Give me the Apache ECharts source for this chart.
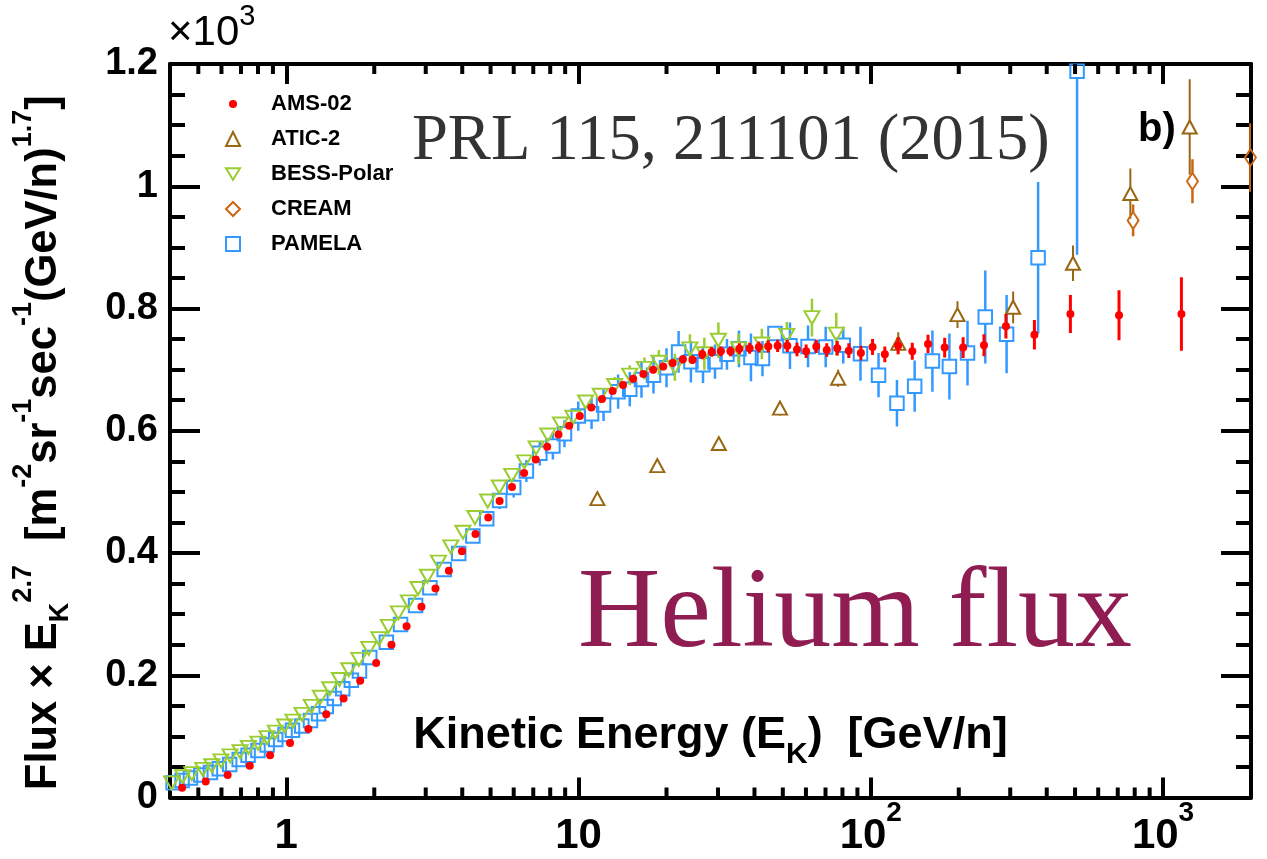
<!DOCTYPE html>
<html><head><meta charset="utf-8">
<script src="https://cdn.jsdelivr.net/npm/echarts@6/dist/echarts.min.js"></script>
<style>html,body{margin:0;padding:0;background:#fff}#c{width:1267px;height:859px}</style>
</head><body><div id="c"></div><script>
// ---------------- data (E in GeV/n, flux x E^2.7) ----------------
const amsE=[0.44,0.53,0.63,0.75,0.88,1.03,1.19,1.37,1.57,1.79,2.03,2.29,2.58,2.90,3.24,3.60,3.99,4.44,4.91,5.37,5.92,6.51,7.14,7.81,8.54,9.29,10.1,11.06,12.03,13.08,14.2,15.38,16.67,18.0,19.49,21.0,22.75,24.55,26.5,28.55,30.7,33.1,35.5,38.5,41.4,44.6,48.0,51.8,55.9,60.1,65.1,70.7,76.8,84.1,92.5,101.4,111.7,124,138.7,157,179,207,244,290,363,482,707,1156];
const amsFlux=[16,26,37,52,69,89,112,136,162,191,220,250,280,312,342,371,403,431,458,485,508,531,553,574,594,608,624,638,652,665,675,685,693,700,705,711,717,716,725,729,730,730,734,735,737,738,739,739,733,730,738,732,735,731,727,737,725,739,730,742,736,736,740,771,757,791,789,791];
const amsErr=[1,1,1,1,1,1,1,1,1,1,1,1,1,1,1,2,2,2,2,2,3,3,3,3,3,3,4,4,4,5,5,5,5,6,6,6,7,7,8,8,8,8,9,9,9,10,10,10,11,11,11,11,12,12,12,13,13,14,14,15,16,17,18,20,24,31,41,60];

const aticE=[11.6,18.6,30.2,48.9,77.3,124.2,198,307,492,773,1234];
const aticFlux=[489,543,579,637,686,743,790,802,874,988,1097];
const aticErr=[6,8,10,12,14,18,22,26,29,41,78];

const bessE=[0.405,0.442,0.475,0.518,0.556,0.598,0.642,0.695,0.742,0.80,0.859,0.917,0.987,1.054,1.132,1.218,1.308,1.408,1.52,1.636,1.771,1.916,2.075,2.235,2.418,2.617,2.823,3.041,3.317,3.656,4.022,4.42,4.887,5.356,5.908,6.525,7.159,7.852,8.672,9.568,10.57,11.87,13.29,14.97,16.81,18.83,21.36,24.05,26.95,30.1,35.26,42.4,51.6,62.9,76.2];
const bessFlux=[24,34,39,46,52,60,68,75,82,89,98,107,117,125,136,149,164,178,193,209,226,244,260,280,302,320,342,362,385,410,434,458,485,508,527,549,572,593,611,622,647,658,674,691,702,712,704,734,726,748,734,742,756,785,758];
const bessErr=[1,1,1,1,1,1,1,1,1,1,1,1,1,1,1,1,1,1,1,1,2,2,2,2,2,2,2,2,2,2,3,3,4,4,5,5,6,7,8,9,10,12,14,16,18,20,22,24,26,29,25,25,22,31,35];

const creamE=[790,1261,1991];
const creamFlux=[944,1008,1047];
const creamErr=[26,36,56];

const pamelaE=[0.41,0.44,0.47,0.51,0.55,0.59,0.64,0.69,0.74,0.80,0.86,0.92,0.99,1.05,1.13,1.21,1.29,1.37,1.46,1.56,1.67,1.78,1.93,2.20,2.46,2.77,3.10,3.47,3.89,4.35,4.85,5.37,6.0,6.63,7.37,8.17,8.95,9.98,11.08,12.18,13.66,14.97,16.42,18.05,20.0,22.0,24.24,26.66,29.3,32.2,35.4,38.9,42.6,47.0,52.9,61.0,70.1,80.5,92.2,106.3,122.9,141.3,162.5,185.8,214.3,246.5,291.6,373.7,508];
const pamelaFlux=[24,28,32,37,41,47,54,62,69,77,86,95,103,110,117,126,137,149,162,178,192,207,229,254,283,314,343,373,399,428,456,486,507,534,563,575,595,624,628,642,664,668,684,691,703,729,713,708,713,725,734,720,718,759,739,738,737,740,726,691,645,673,714,705,727,786,758,883,1188];
const pamelaErr=[2,2,2,2,2,2,2,2,2,2,2,3,3,3,3,3,3,3,4,4,4,4,5,5,6,7,8,9,10,11,12,14,16,18,20,22,22,24,25,26,28,28,30,30,32,34,34,30,28,25,30,39,29,12,38,34,33,30,44,36,38,42,50,54,53,76,64,124,300];

// axis ticks / labels
const xMin=0.4, xMax=2000;
const xTickValues=[1,10,100,1000];
const xTickBase=['1','10','10','10'];
const xTickExp=['','','2','3'];
const xMinorTicks=[0.5,0.6,0.7,0.8,0.9,2,3,4,5,6,7,8,9,20,30,40,50,60,70,80,90,200,300,400,500,600,700,800,900];
const yMin=0, yMax=1200, yStep=200;
const yTickLabels=['0','0.2','0.4','0.6','0.8','1','1.2'];

// ---------------- chart ----------------
const SANS='Liberation Sans, Arial, Helvetica, sans-serif';
const SERIF='Liberation Serif, Times New Roman, serif';
const downTri='path://M0,0L12,0L6,10Z';
const smallDot='path://M0,0M14,14M7,3A4,4 0 1 1 7,11A4,4 0 1 1 7,3Z';

const defs=[
  {name:'PAMELA',e:pamelaE,f:pamelaFlux,err:pamelaErr,color:'#3399ff',symbol:'rect',size:13.5,hollow:true,gap:6.8,lw:2.5,z:3},
  {name:'ATIC-2',e:aticE,f:aticFlux,err:aticErr,color:'#996611',symbol:'triangle',size:[14,13],hollow:true,gap:6.5,lw:2,z:4},
  {name:'BESS-Polar',e:bessE,f:bessFlux,err:bessErr,color:'#9acd32',symbol:downTri,size:[15,13],hollow:true,gap:6.5,lw:2.5,z:4},
  {name:'CREAM',e:creamE,f:creamFlux,err:creamErr,color:'#cc6611',symbol:'diamond',size:[11,17],hollow:true,gap:8.5,lw:2.5,z:4},
  {name:'AMS-02',e:amsE,f:amsFlux,err:amsErr,color:'#ff0000',symbol:'circle',size:8,hollow:false,gap:0,lw:3,z:6}
];

function errRender(color,lw,gap){
  return function(params,api){
    const x=api.value(0),y=api.value(1),lo=api.value(2),hi=api.value(3);
    const c=api.coord([x,y]),a=api.coord([x,lo]),b=api.coord([x,hi]);
    const cs=params.coordSys;const top=cs.y,bot=cs.y+cs.height;
    const yb=Math.min(a[1],bot),yt=Math.max(b[1],top);
    const ch=[];
    const st={stroke:color,lineWidth:lw};
    if(yb>c[1]+gap) ch.push({type:'line',shape:{x1:c[0],y1:c[1]+gap,x2:c[0],y2:yb},style:st});
    if(yt<c[1]-gap) ch.push({type:'line',shape:{x1:c[0],y1:c[1]-gap,x2:c[0],y2:yt},style:st});
    return {type:'group',children:ch};
  };
}

const series=[];
defs.forEach(d=>{
  series.push({
    name:d.name+' err',type:'custom',coordinateSystem:'cartesian2d',xAxisIndex:0,yAxisIndex:0,
    data:d.e.map((e,i)=>[e,d.f[i],d.f[i]-d.err[i],d.f[i]+d.err[i]]),
    encode:{x:0,y:1},renderItem:errRender(d.color,d.lw,d.gap),z:d.z,silent:true,clip:true
  });
  series.push({
    name:d.name,type:'scatter',xAxisIndex:0,yAxisIndex:0,
    data:d.e.map((e,i)=>[e,d.f[i]]),
    symbol:d.symbol,symbolSize:d.size,
    itemStyle:d.hollow?{color:'rgba(0,0,0,0)',borderColor:d.color,borderWidth:2,opacity:1}:{color:d.color,opacity:1},
    z:d.z+0.5,silent:true,emphasis:{disabled:true}
  });
});
// minor ticks of the log axes (bottom & top)
series.push({
  name:'minor',type:'custom',coordinateSystem:'cartesian2d',xAxisIndex:0,yAxisIndex:0,
  data:xMinorTicks.map(v=>[v,0]),encode:{x:0,y:1},silent:true,z:20,clip:false,
  renderItem:function(params,api){
    const p=api.coord([api.value(0),0]);const cs=params.coordSys;
    const st={stroke:'#000',lineWidth:4};
    return {type:'group',children:[
      {type:'line',shape:{x1:p[0],y1:cs.y+cs.height,x2:p[0],y2:cs.y+cs.height-10},style:st},
      {type:'line',shape:{x1:p[0],y1:cs.y,x2:p[0],y2:cs.y+10},style:st}
    ]};
  }
});

function xLabel(v){
  const i=xTickValues.findIndex(t=>Math.abs(t-v)/t<1e-6);
  if(i<0) return '';
  return '{m|'+xTickBase[i]+'}'+(xTickExp[i]?'{s|'+xTickExp[i]+'}':'{s|\u200b}');
}
function yLabel(v){const i=Math.round((v-yMin)/yStep);return yTickLabels[i]!==undefined?yTickLabels[i]:'';}

const axisLineStyle={color:'#000',width:4};
const option={
  animation:false,
  backgroundColor:'#fff',
  grid:{left:170,right:16,top:64,bottom:61.5,outerBoundsMode:'none',containLabel:false},
  xAxis:[
    {type:'log',logBase:10,min:xMin,max:xMax,position:'bottom',
     axisLine:{show:true,onZero:false,lineStyle:axisLineStyle},
     axisTick:{show:true,inside:true,length:20,lineStyle:{color:'#000',width:4}},
     splitLine:{show:false},minorTick:{show:false},
     axisLabel:{show:true,showMinLabel:false,showMaxLabel:false,margin:2,color:'#000',formatter:xLabel,
       rich:{m:{fontSize:42,fontWeight:'bold',fontFamily:SANS,color:'#000',padding:[16,0,0,0],verticalAlign:'top'},
             s:{fontSize:28,fontWeight:'bold',fontFamily:SANS,color:'#000',verticalAlign:'top'}}},
     name:'{m|Kinetic Energy (E}{sub|K}{m|)  [GeV/n]}',nameLocation:'middle',nameGap:-84,
     nameTextStyle:{rich:{m:{fontSize:45,fontWeight:'bold',fontFamily:SANS,color:'#000',verticalAlign:'top'},
       sub:{fontSize:30,fontWeight:'bold',fontFamily:SANS,color:'#000',verticalAlign:'top',padding:[26,0,0,0]}}}
    },
    {type:'log',logBase:10,min:xMin,max:xMax,position:'top',
     axisLine:{show:true,onZero:false,lineStyle:axisLineStyle},
     axisTick:{show:true,inside:true,length:20,lineStyle:{color:'#000',width:4}},
     axisLabel:{show:false},splitLine:{show:false}}
  ],
  yAxis:[
    {type:'value',min:yMin,max:yMax,interval:yStep,position:'left',
     axisLine:{show:true,onZero:false,lineStyle:axisLineStyle},
     axisTick:{show:true,inside:true,length:30,lineStyle:{color:'#000',width:4}},
     minorTick:{show:true,splitNumber:4,length:15,lineStyle:{color:'#000',width:4}},
     splitLine:{show:false},minorSplitLine:{show:false},
     axisLabel:{formatter:yLabel,fontSize:38,fontWeight:'bold',fontFamily:SANS,color:'#000',margin:12},
     name:'{m|Flux × E}{sub|K}{sup|2.7}{m|  [m}{sup|-2}{m|sr}{sup|-1}{m|sec}{sup|-1}{m|(GeV/n)}{sup|1.7}{m|]}{pad|\u00a0}',
     nameLocation:'middle',nameRotate:90,nameGap:96,
     nameTextStyle:{rich:{
       m:{fontSize:43.5,fontWeight:'bold',fontFamily:SANS,color:'#000',verticalAlign:'top',padding:[12,0,0,0]},
       sup:{fontSize:27,fontWeight:'bold',fontFamily:SANS,color:'#000',verticalAlign:'top'},
       sub:{fontSize:27,fontWeight:'bold',fontFamily:SANS,color:'#000',verticalAlign:'top',padding:[37,0,0,0]},
       pad:{width:24,fontSize:10}}}
    },
    {type:'value',min:yMin,max:yMax,interval:yStep,position:'right',
     axisLine:{show:true,onZero:false,lineStyle:axisLineStyle},
     axisTick:{show:true,inside:true,length:30,lineStyle:{color:'#000',width:4}},
     minorTick:{show:true,splitNumber:4,length:15,lineStyle:{color:'#000',width:4}},
     splitLine:{show:false},axisLabel:{show:false}}
  ],
  legend:{
    orient:'vertical',left:220,top:88,itemWidth:14,itemHeight:14,itemGap:13,selectedMode:false,
    data:[
      {name:'AMS-02',icon:smallDot,itemStyle:{color:'#ff0000',borderWidth:0}},
      {name:'ATIC-2',icon:'triangle',itemStyle:{color:'rgba(0,0,0,0)',borderColor:'#996611',borderWidth:2}},
      {name:'BESS-Polar',icon:downTri,itemStyle:{color:'rgba(0,0,0,0)',borderColor:'#9acd32',borderWidth:2}},
      {name:'CREAM',icon:'diamond',itemStyle:{color:'rgba(0,0,0,0)',borderColor:'#cc6611',borderWidth:2}},
      {name:'PAMELA',icon:'rect',itemStyle:{color:'rgba(0,0,0,0)',borderColor:'#3399ff',borderWidth:2}}
    ],
    formatter:function(n){return '{g|\u00a0}{t|'+n+'}';},
    textStyle:{fontSize:22,fontWeight:'bold',fontFamily:SANS,color:'#000',
      rich:{g:{width:26},t:{fontSize:22,fontWeight:'bold',fontFamily:SANS,color:'#000'}}}
  },
  graphic:[
    {type:'text',left:168,top:2,silent:true,style:{text:'{m|×10}{s|3}',
      rich:{m:{fontSize:42,fontFamily:SANS,fill:'#000',padding:[10,0,0,0],verticalAlign:'top'},
            s:{fontSize:29,fontFamily:SANS,fill:'#000',verticalAlign:'top'}}}},
    {type:'text',left:412,top:110,silent:true,style:{text:'PRL 115, 211101 (2015)',fontSize:64.5,fontFamily:SERIF,fill:'#333'}},
    {type:'text',left:1138,top:110,silent:true,style:{text:'b)',fontSize:40,fontWeight:'bold',fontFamily:SANS,fill:'#000'}},
    {type:'text',left:578,top:559,silent:true,style:{text:'Helium flux',fontSize:114,fontFamily:SERIF,fill:'#8f1d52'}}
  ],
  series:series
};
const chart=echarts.init(document.getElementById('c'),null,{renderer:'canvas'});
chart.setOption(option);
</script></body></html>
